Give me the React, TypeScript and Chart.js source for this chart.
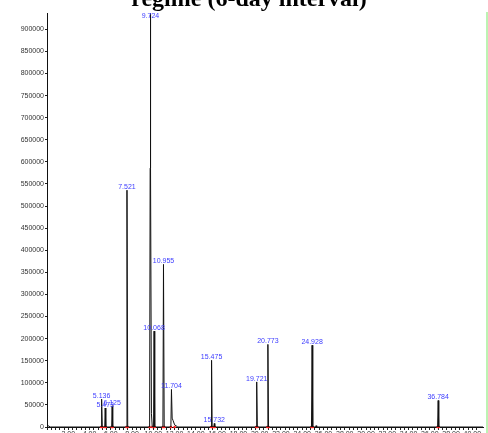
import { useEffect, useRef } from "react";
import { Chart, registerables } from "chart.js";

Chart.register(...registerables);

// chromatogram trace (retention time in min, detector response)
const traceTimes = [
  0, 0.1, 0.3, 5.09, 5.136, 5.2, 5.43, 5.473, 5.53, 6.08, 6.125, 6.18,
  7.47, 7.521, 7.59, 9.65, 9.7, 9.724, 9.75, 9.82, 9.9, 10.02, 10.068, 10.13,
  10.9, 10.955, 11.02, 11.65, 11.704, 11.77, 11.85, 12.0, 12.3, 15.43, 15.475,
  15.53, 15.69, 15.732, 15.78, 19.67, 19.721, 19.78, 20.72, 20.773, 20.83,
  24.87, 24.928, 24.99, 25.25, 25.3, 25.36, 36.73, 36.784, 36.84, 41,
];
const traceSignal = [
  5000, 3000, 0, 0, 63000, 0, 0, 43000, 0, 0, 48000, 0,
  0, 536000, 0, 0, 586000, 1000000, 586000, 30000, 0, 0, 217000, 0,
  0, 368000, 0, 0, 85000, 20000, 15000, 5000, 0, 0, 151000,
  0, 0, 8000, 0, 0, 102000, 0, 0, 187000, 0,
  0, 185000, 0, 0, 3000, 0, 0, 60000, 0, 0,
];

// labelled peaks
const peakTimes = [5.136, 5.473, 6.125, 7.521, 9.724, 10.068, 10.955, 11.704, 15.475, 15.732, 19.721, 20.773, 24.928, 36.784];
const peakHeights = [63000, 43000, 48000, 536000, 1000000, 217000, 368000, 85000, 151000, 8000, 102000, 187000, 185000, 60000];

// integration start/end marks on the baseline
const markerTimes = [
  5.09, 5.2, 5.43, 5.53, 6.08, 6.18, 7.47, 7.59, 9.65, 9.9, 10.13, 10.9, 11.02,
  11.65, 12.0, 15.43, 15.53, 15.69, 15.78, 19.67, 19.78, 20.72, 20.83, 24.87,
  24.99, 36.73, 36.84,
];

// axis ticks
const yTicks = [
  0, 50000, 100000, 150000, 200000, 250000, 300000, 350000, 400000, 450000,
  500000, 550000, 600000, 650000, 700000, 750000, 800000, 850000, 900000,
];
const X_MAX = 41;
const Y_MAX = 937000;

const peakLabelPlugin = {
  id: "peakLabels",
  afterDatasetsDraw(chart: Chart) {
    const { ctx, chartArea } = chart;
    const xs = chart.scales.x;
    const ys = chart.scales.y;
    ctx.save();
    ctx.font = "7px 'Liberation Sans', Arial, sans-serif";
    ctx.fillStyle = "#3c3cff";
    ctx.textAlign = "center";
    ctx.textBaseline = "middle";
    peakTimes.forEach((t, i) => {
      const x = xs.getPixelForValue(t);
      const y = Math.max(ys.getPixelForValue(peakHeights[i]), chartArea.top + 6);
      ctx.fillText(t.toFixed(3), x, y - 3);
    });
    // light green frame edge on the right
    ctx.strokeStyle = "#a6ef9a";
    ctx.lineWidth = 1.5;
    ctx.beginPath();
    ctx.moveTo(chartArea.right + 4, chartArea.top - 1);
    ctx.lineTo(chartArea.right + 4, chartArea.bottom + 10);
    ctx.stroke();
    ctx.restore();
  },
};

function Chromatogram() {
  const canvasRef = useRef<HTMLCanvasElement>(null);
  const chartRef = useRef<Chart | null>(null);

  useEffect(() => {
    if (!canvasRef.current) return;
    if (chartRef.current) chartRef.current.destroy();

    chartRef.current = new Chart(canvasRef.current, {
      type: "line",
      data: {
        datasets: [
          {
            data: traceTimes.map((t, i) => ({ x: t, y: traceSignal[i] })),
            borderColor: "#111",
            borderWidth: 1,
            pointRadius: 0,
            tension: 0,
          },
          {
            data: markerTimes.map((t) => ({ x: t, y: 0 })),
            showLine: false,
            pointRadius: 1.3,
            pointBackgroundColor: "#ff2020",
            pointBorderWidth: 0,
            clip: false,
          },
        ],
      },
      options: {
        animation: false,
        responsive: true,
        maintainAspectRatio: false,
        layout: { padding: { top: 13, right: 5, left: 0, bottom: 0 } },
        plugins: {
          legend: { display: false },
          tooltip: { enabled: false },
        },
        scales: {
          x: {
            type: "linear",
            min: 0,
            max: X_MAX,
            afterBuildTicks: (axis: any) => {
              axis.ticks = axis.ticks.filter((t: any) => t.value < X_MAX - 0.1);
            },
            afterFit: (axis: any) => {
              axis.height = 23;
            },
            border: { display: true, color: "#111", width: 1 },
            grid: { drawOnChartArea: false, drawTicks: true, tickLength: 3, color: "#222" },
            ticks: {
              stepSize: 0.4,
              autoSkip: false,
              maxRotation: 0,
              minRotation: 0,
              padding: 0,
              color: "#333",
              font: { family: "'Liberation Sans', Arial, sans-serif", size: 7 },
              callback: (v: any) => {
                const r = Math.round(Number(v) * 10);
                return r > 0 && r % 20 === 0 ? (r / 10).toFixed(2) : "";
              },
            },
          },
          y: {
            min: 0,
            max: Y_MAX,
            afterBuildTicks: (axis: any) => {
              axis.ticks = yTicks.map((v) => ({ value: v }));
            },
            afterFit: (axis: any) => {
              axis.width = 47;
            },
            border: { display: true, color: "#111", width: 1 },
            grid: { drawOnChartArea: false, drawTicks: true, tickLength: 2, color: "#222" },
            ticks: {
              autoSkip: false,
              padding: 1,
              color: "#333",
              font: { family: "'Liberation Sans', Arial, sans-serif", size: 7 },
              callback: (v: any) => String(v),
            },
          },
        },
      },
      plugins: [peakLabelPlugin],
    });

    return () => {
      if (chartRef.current) {
        chartRef.current.destroy();
        chartRef.current = null;
      }
    };
  }, []);

  return <canvas ref={canvasRef} />;
}

export default function App() {
  return (
    <div style={{ position: "fixed", inset: 0, overflow: "hidden", background: "#fff" }}>
      <div style={{ position: "absolute", left: 0, top: 0, width: 488, height: 450 }}>
        <Chromatogram />
      </div>
      <div
        style={{
          position: "absolute",
          left: 249,
          top: -14,
          transform: "translateX(-50%)",
          whiteSpace: "nowrap",
          fontFamily: "'Liberation Serif', 'Times New Roman', serif",
          fontWeight: "bold",
          fontSize: 24,
          lineHeight: "24px",
          color: "#000",
        }}
      >
        regime (6-day interval)
      </div>
    </div>
  );
}
